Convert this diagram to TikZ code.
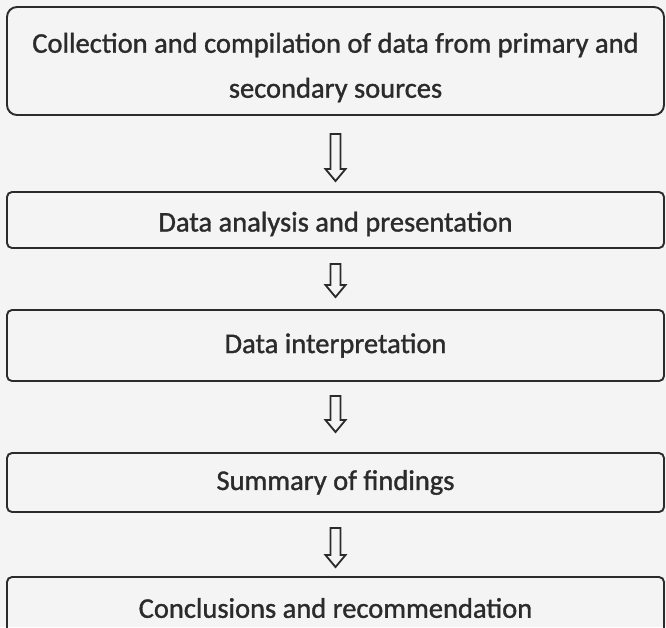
\documentclass[tikz,border=0pt]{standalone}
\usepackage{fontspec}
\setmainfont{Carlito}[FakeBold=1.2]
\usetikzlibrary{calc}
\definecolor{ink}{HTML}{2B2B2B}
\definecolor{paper}{HTML}{F4F4F4}
\begin{document}
\begin{tikzpicture}[x=1pt,y=-1pt,
  box/.style={draw=ink, line width=1.9pt, rounded corners=5pt, minimum width=657pt,
    inner sep=0pt, text=ink, font=\fontsize{28.5}{45}\selectfont, align=center},
  bigbox/.style={box, rounded corners=10pt},
  blockarrow/.style={draw=ink, line width=1.8pt, fill=paper,
    to path={let \p1=(\tikztostart), \p2=(\tikztotarget) in
      ({\x1-5pt},\y1) -- ({\x1-5pt},{\y2+12pt}) -- ({\x1-10pt},{\y2+12pt}) -- (\x1,\y2)
      -- ({\x1+10pt},{\y2+12pt}) -- ({\x1+5pt},{\y2+12pt}) -- ({\x1+5pt},\y1) -- cycle}}]
\fill[paper] (0,0) rectangle (666,627);
\useasboundingbox (0,0) rectangle (666,627);
\clip (0,0) rectangle (666,627);

\node[bigbox, minimum height=108pt] (b1) at (335.5,61)
  {\rule{0pt}{33pt}Collection and compilation of data from primary and\\secondary sources};
\node[box, minimum height=56pt, text height=30pt, text depth=7pt] (b2) at (335.5,220)
  {Data analysis and presentation};
\node[box, minimum height=71pt] (b3) at (335.5,345.5) {Data interpretation};
\node[box, minimum height=59pt] (b4) at (335.5,482.5) {Summary of findings};
\node[box, minimum height=62pt] (b5) at (335.5,608) {Conclusions and recommendation};

\coordinate (a1s) at ($(b1.south)+(0,18)$);
\coordinate (a1e) at ($(b2.north)+(0,-10)$);
\coordinate (a2s) at ($(b2.south)+(0,15)$);
\coordinate (a2e) at ($(b3.north)+(0,-12)$);
\coordinate (a3s) at ($(b3.south)+(0,14)$);
\coordinate (a3e) at ($(b4.north)+(0,-20)$);
\coordinate (a4s) at ($(b4.south)+(0,15)$);
\coordinate (a4e) at ($(b5.north)+(0,-9)$);

\draw[blockarrow] (a1s) to (a1e);
\draw[blockarrow] (a2s) to (a2e);
\draw[blockarrow] (a3s) to (a3e);
\draw[blockarrow] (a4s) to (a4e);
\end{tikzpicture}
\end{document}
